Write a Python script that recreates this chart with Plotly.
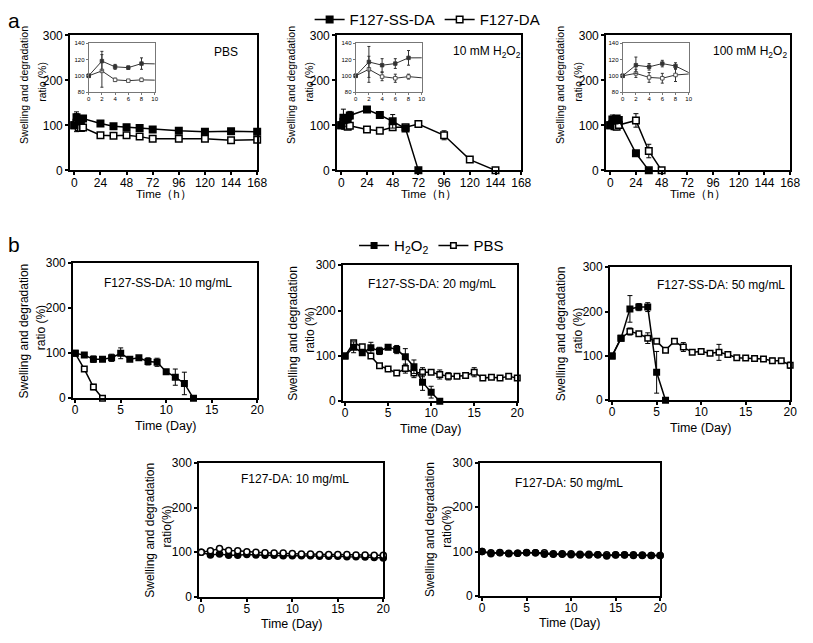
import plotly.graph_objects as go

W, H = 813, 643

# ---------------- data: panel a (time in hours) ----------------
t_a = [0, 2, 4, 6, 8, 24, 36, 48, 60, 72, 96, 120, 144, 168]
pbs_ss = [100, 118, 111, 110, 115, 104, 98, 96, 94, 91, 88, 86, 87, 86]
pbs_ss_err = [0, 12, 3, 2, 7, 2, 2, 2, 2, 2, 2, 2, 2, 2]
pbs_da = [100, 106, 95, 94, 95, 78, 77, 78, 75, 70, 70, 70, 67, 68]
pbs_da_err = [0, 20, 2, 1, 2, 2, 2, 2, 2, 2, 2, 2, 2, 2]

t_h10_ss = [0, 2, 4, 6, 8, 24, 36, 48, 60, 72]
h10_ss = [100, 117, 113, 115, 122, 135, 123, 109, 93, 0]
h10_ss_err = [0, 19, 8, 6, 9, 3, 6, 15, 5, 0]
t_h10_da = [0, 2, 4, 6, 8, 24, 36, 48, 60, 72, 96, 120, 144]
h10_da = [100, 108, 99, 97, 99, 91, 88, 96, 96, 103, 78, 24, 0]
h10_da_err = [0, 16, 5, 5, 3, 2, 2, 5, 5, 3, 10, 3, 0]

t_h100_ss = [0, 2, 4, 6, 8, 24, 36]
h100_ss = [100, 113, 111, 115, 112, 38, 0]
h100_ss_err = [0, 10, 4, 4, 4, 3, 0]
t_h100_da = [0, 2, 4, 6, 8, 24, 36, 48]
h100_da = [100, 103, 98, 97, 101, 111, 43, 0]
h100_da_err = [0, 5, 6, 6, 8, 15, 15, 0]

# ---------------- data: panel b (time in days) ----------------
b1_h2o2 = [100, 96, 87, 87, 90, 100, 87, 90, 82, 80, 59, 47, 33, 0]
b1_h2o2_err = [0, 2, 7, 5, 8, 12, 2, 3, 8, 9, 3, 18, 25, 0]
b1_pbs = [100, 65, 25, 0]
b1_pbs_err = [0, 2, 6, 0]

b2_h2o2 = [100, 119, 107, 118, 111, 119, 114, 98, 76, 42, 20, 0]
b2_h2o2_err = [0, 12, 5, 12, 8, 5, 9, 18, 15, 18, 13, 0]
b2_pbs = [100, 129, 120, 100, 78, 71, 62, 72, 62, 64, 64, 59, 55, 55, 57, 64, 51, 53, 51, 55, 51]
b2_pbs_err = [0, 3, 3, 3, 3, 3, 3, 10, 10, 10, 3, 10, 8, 3, 3, 10, 3, 3, 3, 3, 3]

b3_h2o2 = [100, 140, 206, 210, 210, 63, 0]
b3_h2o2_err = [0, 3, 30, 8, 10, 47, 0]
b3_pbs = [100, 140, 155, 150, 140, 133, 113, 133, 120, 108, 110, 106, 108, 103, 96, 95, 94, 93, 89, 89, 79]
b3_pbs_err = [0, 3, 8, 3, 12, 3, 3, 3, 10, 3, 3, 3, 18, 3, 3, 3, 3, 3, 6, 3, 7]

b4_h2o2 = [100, 94, 96, 93, 93, 95, 94, 93, 93, 92, 92, 92, 92, 91, 91, 91, 90, 90, 89, 88, 87]
b4_pbs = [100, 103, 108, 104, 103, 101, 100, 99, 98, 98, 97, 96, 96, 95, 95, 95, 95, 94, 94, 93, 93]
b5_h2o2 = [100, 95, 98, 95, 96, 98, 97, 94, 94, 94, 93, 92, 92, 93, 90, 92, 92, 91, 91, 91, 91]
b5_pbs = [100, 97, 97, 96, 96, 97, 97, 97, 95, 95, 95, 94, 94, 93, 93, 93, 93, 93, 92, 91, 91]

days = list(range(0, 21))

a_xticks = [0, 24, 48, 72, 96, 120, 144, 168]
b_xticks = [0, 5, 10, 15, 20]
y_ticks = [0, 100, 200, 300]
inset_xticks = [0, 2, 4, 6, 8, 10]
inset_yticks = [80, 100, 120, 140]

FONT = "Liberation Sans, Arial, Helvetica, sans-serif"


def fx(x):
    return x / W


def fy(y):
    return 1 - y / H


fig = go.Figure()
layout = {}


def set_axes(i, x0, x1, y0, y1, xr, yr, xt, yt, inset=False, tick_size=12):
    sfx = "" if i == 1 else str(i)
    col = "#777777" if inset else "black"
    lw = 1 if inset else 1.6
    common = dict(showline=True, linewidth=lw, linecolor=col, mirror=True,
                  ticks="outside", ticklen=2 if inset else 3, tickwidth=1 if inset else 1.5,
                  tickcolor=col, showgrid=False, zeroline=False,
                  tickfont=dict(size=6 if inset else tick_size, color="black", family=FONT))
    layout["xaxis" + sfx] = dict(domain=[fx(x0), fx(x1)], range=xr, tickvals=xt,
                                 anchor="y" + sfx,
                                 ticklabelstandoff=-1 if inset else -3, **common)
    layout["yaxis" + sfx] = dict(domain=[fy(y1), fy(y0)], range=yr, tickvals=yt,
                                 anchor="x" + sfx, **common)


def add(i, x, y, err=None, symbol="square", filled=True, size=6.5, name=None,
        legend=None, lw=1.5, color="black", clip=False, mode="lines+markers"):
    sfx = "" if i == 1 else str(i)
    marker = dict(symbol=symbol, size=size,
                  color=color if filled else "white",
                  line=dict(color=color, width=lw))
    kw = {}
    if err is not None:
        kw["error_y"] = dict(type="data", array=err, visible=True, color=color,
                             thickness=1, width=2.5 if size > 4 else 1.5)
    fig.add_trace(go.Scatter(x=x, y=y, mode=mode, marker=marker,
                             line=dict(color=color, width=lw),
                             name=name, showlegend=name is not None,
                             legend=legend if legend else "legend",
                             cliponaxis=clip, xaxis="x" + sfx, yaxis="y" + sfx, **kw))


# ---------- panel a main axes ----------
a_boxes = [(69, 259), (340, 527), (613, 800)]
for k, (x0, x1) in enumerate(a_boxes):
    set_axes(k + 1, x0, x1, 29, 167, [-4, 168], [0, 300], a_xticks, y_ticks)
inset_boxes = [(88, 155), (359, 426), (630, 697)]
for k, (x0, x1) in enumerate(inset_boxes):
    set_axes(k + 4, x0, x1, 37, 87, [0, 10], [80, 140], inset_xticks, inset_yticks, inset=True)

a_series = [
    (t_a, pbs_ss, pbs_ss_err, t_a, pbs_da, pbs_da_err),
    (t_h10_ss, h10_ss, h10_ss_err, t_h10_da, h10_da, h10_da_err),
    (t_h100_ss, h100_ss, h100_ss_err, t_h100_da, h100_da, h100_da_err),
]
for k, (ts, ys, es, td, yd, ed) in enumerate(a_series):
    # main panel
    add(k + 1, td, yd, ed, filled=False, name="F127-DA" if k == 0 else None)
    add(k + 1, ts, ys, es, filled=True, name="F127-SS-DA" if k == 0 else None)
    # inset: lines with full data (clipped), markers for early points
    for tt, yy, ee, fill in [(td, yd, ed, False), (ts, ys, es, True)]:
        add(k + 4, tt, yy, None, size=3.5, lw=1, color="#333333", clip=False, mode="lines")
        sel = [j for j, v in enumerate(tt) if v <= 10]
        add(k + 4, [tt[j] for j in sel], [yy[j] for j in sel], [ee[j] for j in sel],
            filled=fill, size=3.5, lw=0.8, color="#333333", clip=False, mode="markers")

# ---------- panel b axes ----------
b_boxes = [(72, 259, 262, 400), (346, 523, 264, 403), (617, 800, 266, 402),
           (200, 387, 466, 603), (485, 668, 466, 602)]
for k, (x0, x1, y0, y1) in enumerate(b_boxes):
    set_axes(k + 7, x0, x1, y0, y1, [-0.25, 20], [0, 300], b_xticks, y_ticks)

add(7, days[:len(b1_pbs)], b1_pbs, b1_pbs_err, filled=False, size=5.5, name="PBS", legend="legend2")
add(7, days[:len(b1_h2o2)], b1_h2o2, b1_h2o2_err, filled=True, size=5.5,
    name="H<sub>2</sub>O<sub>2</sub>", legend="legend2")
add(8, days[:len(b2_pbs)], b2_pbs, b2_pbs_err, filled=False, size=5.5)
add(8, days[:len(b2_h2o2)], b2_h2o2, b2_h2o2_err, filled=True, size=5.5)
add(9, days[:len(b3_pbs)], b3_pbs, b3_pbs_err, filled=False, size=5.5)
add(9, days[:len(b3_h2o2)], b3_h2o2, b3_h2o2_err, filled=True, size=5.5)
add(10, days, b4_h2o2, None, symbol="circle", filled=True, size=6)
add(10, days, b4_pbs, None, symbol="circle", filled=False, size=6)
add(11, days, b5_pbs, None, symbol="circle", filled=False, size=6)
add(11, days, b5_h2o2, None, symbol="circle", filled=True, size=6)

# ---------- annotations ----------
ann = []


def text(x, y, s, size, angle=0, xanchor="center"):
    ann.append(dict(x=fx(x), y=fy(y), xref="paper", yref="paper", text=s, showarrow=False,
                    textangle=angle, xanchor=xanchor, yanchor="middle",
                    font=dict(size=size, color="black", family=FONT)))


text(12, 14, "a", 21)
text(12, 243, "b", 21)

# panel a y titles and x titles
for (x0, x1) in a_boxes:
    text(x0 - 46, 80, "Swelling and degradation", 10.5, -90)
    text(x0 - 28, 76, "ratio (%)", 10.5, -90)
    text((x0 + x1) / 2, 192, "Time\uff08h\uff09", 11.5)

text(227, 46, "PBS", 12)
text(492, 46, "10 mM H<sub>2</sub>O<sub>2</sub>", 12)
text(759, 46, "100 mM H<sub>2</sub>O<sub>2</sub>", 12)

# panel b titles
b_labels = ["F127-SS-DA: 10 mg/mL", "F127-SS-DA: 20 mg/mL", "F127-SS-DA: 50 mg/mL",
            "F127-DA: 10 mg/mL", "F127-DA: 50 mg/mL"]
b_label_pos = [(168, 282), (436, 283), (730, 284), (297, 483), (576, 487)]
for k, (x0, x1, y0, y1) in enumerate(b_boxes):
    ratio = "ratio (%)" if k < 3 else "ratio(%)"
    yc = (y0 + y1) / 2
    text(x0 - 50, yc, "Swelling and degradation", 12, -90)
    text(x0 - 33, yc - 3, ratio, 12, -90)
    text((x0 + x1) / 2, y1 + 28, "Time (Day)", 12.5)
    text(b_label_pos[k][0], b_label_pos[k][1], b_labels[k], 12)

layout.update(
    width=W, height=H,
    margin=dict(l=0, r=0, t=0, b=0),
    paper_bgcolor="white", plot_bgcolor="white",
    font=dict(family=FONT, color="black"),
    annotations=ann,
    legend=dict(orientation="h", x=fx(432), y=fy(13), xanchor="center", yanchor="middle",
                font=dict(size=15, family=FONT), traceorder="reversed",
                bgcolor="rgba(0,0,0,0)", itemwidth=30),
    legend2=dict(orientation="h", x=fx(436), y=fy(244), xanchor="center", yanchor="middle",
                 font=dict(size=15, family=FONT), traceorder="reversed",
                 bgcolor="rgba(0,0,0,0)", itemwidth=30),
)
fig.update_layout(**layout)
fig.write_html(
    "out.html",
    config={"displayModeBar": False},
    post_script="document.body.style.margin='0';document.body.style.overflow='hidden';",
)
